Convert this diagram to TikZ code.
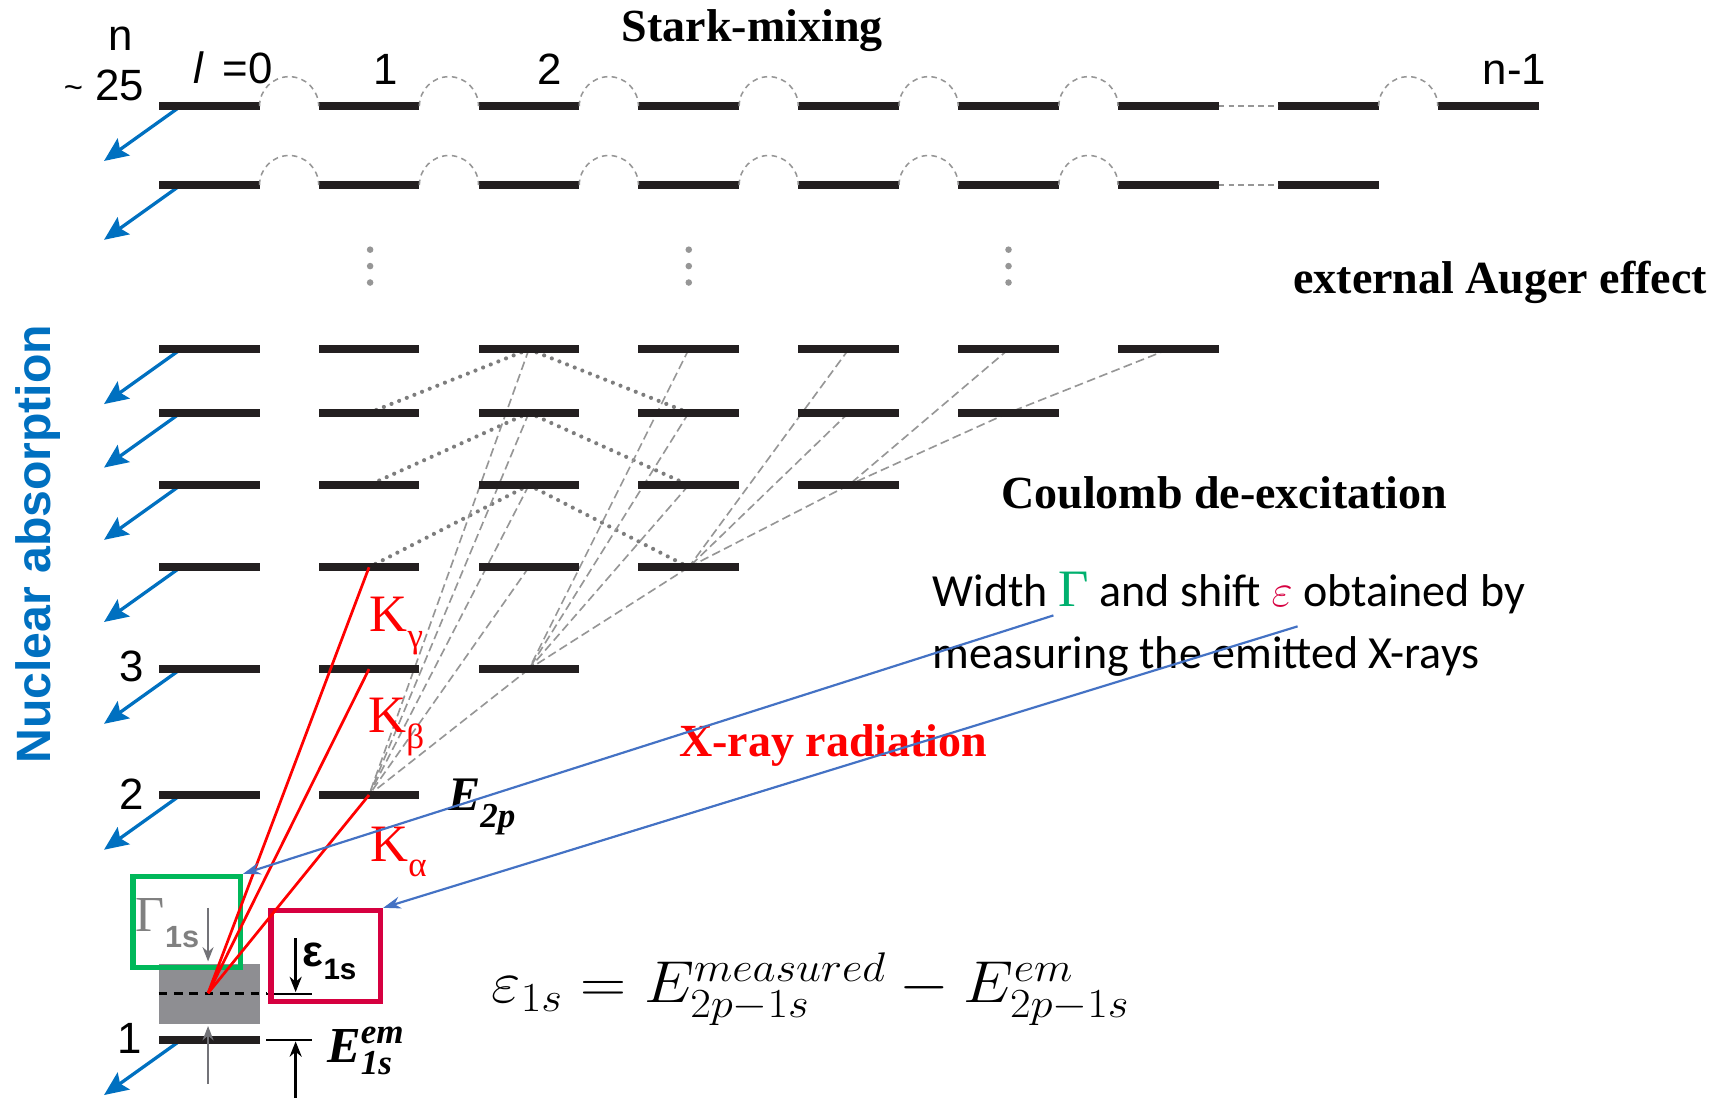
\RequirePackage{fix-cm}
\documentclass[tikz,border=0pt]{standalone}
\usepackage{amsmath}
\usepackage{fontspec}
\setmainfont{Liberation Serif}
\setsansfont{Liberation Sans}
\newfontfamily\calibri{Carlito}
\usetikzlibrary{arrows.meta}
\newcommand\fsz[1]{\fontsize{#1}{#1}\selectfont}
\definecolor{nblue}{RGB}{0,112,192}
\definecolor{lblue}{RGB}{68,114,196}
\definecolor{gboxc}{RGB}{0,184,90}
\definecolor{rboxc}{RGB}{214,0,64}
\definecolor{gfill}{RGB}{142,142,146}
\definecolor{tgray}{RGB}{150,150,150}
\definecolor{dgray}{RGB}{125,125,125}
\definecolor{agray}{RGB}{115,115,120}
\definecolor{kred}{RGB}{255,0,0}
\definecolor{gGamma}{RGB}{0,176,110}
\definecolor{barc}{RGB}{35,31,32}
\pgfdeclarelayer{bg}
\pgfsetlayers{bg,main}
\tikzset{
  bar/.style={fill=barc, minimum width=92pt, minimum height=7pt, inner sep=0pt, outer sep=0pt},
  stark/.style={draw=tgray, line width=1.4pt, dash pattern=on 5pt off 4pt},
  coul/.style={draw=dgray, line width=3.8pt, line cap=round, dash pattern=on 0pt off 7.5pt},
  xray/.style={draw=tgray, line width=1.5pt, dash pattern=on 8pt off 4pt},
  kline/.style={draw=kred, line width=2.5pt},
  nuc/.style={draw=nblue, line width=3pt, -{Stealth[length=22pt,width=19pt,inset=4pt]}},
  ptr/.style={draw=lblue, line width=2pt, -{Stealth[length=16pt,width=11pt]}},
  lbl/.style={inner sep=0pt, outer sep=0pt},
  sanslbl/.style={lbl, font=\sffamily\fsz{40}},
  title/.style={lbl, font=\bfseries\fsz{42}},
  klbl/.style={lbl, text=kred, font=\fsz{48}},
  vbar/.style={line width=2.5pt},
}
\begin{document}
\begin{tikzpicture}[x=1pt,y=-1pt]
\useasboundingbox (0,0) rectangle (1568,1002);
% ---------------- levels
\foreach \l in {0,...,8} \node[bar] (t\l) at ({191+146*\l},97) {};
\foreach \l in {0,...,7} \node[bar] (s\l) at ({191+146*\l},169) {};
\foreach \n/\y in {7/319,6/377,5/443,4/518,3/611,2/726} {
  \pgfmathtruncatemacro\m{\n-1}
  \foreach \l in {0,...,\m} \node[bar] (b\n\l) at ({191+146*\l},\y) {};
}
\node[bar] (b10) at (191,950) {};
% ---------------- Stark mixing arcs
\foreach \a in {0,1,2,3,4,5,7} \draw[stark] (t\a.east) arc[start angle=180,end angle=0,radius=27pt];
\foreach \a in {0,1,2,3,4,5} \draw[stark] (s\a.east) arc[start angle=180,end angle=0,radius=27pt];
\draw[stark] (t6.east) -- (t7.west);
\draw[stark] (s6.east) -- (s7.west);
% vertical dots
\foreach \x in {338,629,921} \foreach \y in {228,243,258} \fill[tgray] (\x,\y) circle (3pt);
% ---------------- transitions
\begin{pgfonlayer}{bg}
\foreach \a/\b in {72/61,72/63,62/51,62/53,52/41,52/43} \draw[coul] (b\a.center) -- (b\b.center);
\foreach \a/\b in {32/21,42/21,52/21,62/21,72/21,43/32,53/32,63/32,73/32,54/43,64/43,74/43,65/54,75/54,76/65}
  \draw[xray] (b\a.center) -- (b\b.center);
\foreach \r in {t0,s0,b70,b60,b50,b40,b30,b20,b10} \draw[nuc] ([xshift=-26pt]\r.center) -- ++(-70,50);
\end{pgfonlayer}
% ---------------- 1s region
\node[fill=gfill, minimum width=92pt, minimum height=55pt, inner sep=0pt] (gb) at (191,907.5) {};
\coordinate (eps0) at (243,907.5);
\coordinate (eps1) at (285,907.5);
\draw[line width=3pt, dash pattern=on 8pt off 6pt] (gb.west) -- (eps0);
\draw[line width=2pt] (eps0) -- (eps1);
\coordinate (em0) at (243,950);
\coordinate (em1) at (285,950);
\draw[line width=2pt] (em0) -- (em1);
\coordinate (emA) at (270,1004);
\coordinate (emT) at (270,951);
\draw[vbar, -{Stealth[length=14pt,width=11pt]}] (emA) -- (emT);
\coordinate (epA) at (270,857);
\coordinate (epT) at (270,906);
\draw[vbar, -{Stealth[length=14pt,width=11pt]}] (epA) -- (epT);
\coordinate (gaA) at (190,829);
\coordinate (gaT) at (190,878);
\draw[vbar, agray, -{Stealth[length=13pt,width=10pt]}] (gaA) -- (gaT);
\coordinate (guA) at (190,990);
\coordinate (guT) at (190,937);
\draw[vbar, agray, -{Stealth[length=13pt,width=10pt]}] (guA) -- (guT);
\node[draw=gboxc, line width=5pt, minimum width=98pt, minimum height=83pt, inner sep=0pt] (gbx) at (170.5,842) {};
\node[draw=rboxc, line width=5pt, minimum width=100pt, minimum height=83pt, inner sep=0pt] (rbx) at (297.5,873) {};
% K lines
\coordinate (k1s) at (190,907);
\foreach \r in {b21,b31,b41} \draw[kline] (\r.center) -- (k1s);
% ---------------- labels
\node[sanslbl] (nlab) at (110,35) {n};
\node[sanslbl] (n25) at (95,78) {\raisebox{0.05em}{\fsz{30}\textasciitilde} 25};
\node[sanslbl] (l0) at (213,62) {{\itshape l}\, =0};
\node[sanslbl] (c1) at (352,63) {1};
\node[sanslbl] (c2) at (502,63) {2};
\node[sanslbl] (cn) at (1383,63) {n-1};
\node[sanslbl] (r3) at (120,609) {3};
\node[sanslbl] (r2) at (120,725) {2};
\node[sanslbl] (r1) at (118,948) {1};
\node[lbl, rotate=90, text=nblue, font=\sffamily\bfseries\fsz{44}] (nuclab) at (35,497) {Nuclear absorption};
\node[title] (stark) at (687,28) {Stark-mixing};
\node[title] (auger) at (1370,258) {external Auger effect};
\node[title] (coul) at (1118,450) {Coulomb de-excitation};
\node[title, text=kred] (xray) at (761,681) {X-ray radiation};
\node[klbl] (kg) at (362,572) {K\raisebox{-0.3em}{\fsz{32}γ}};
\node[klbl] (kb) at (362,664) {K\raisebox{-0.3em}{\fsz{32}β}};
\node[klbl] (ka) at (364,778) {K\raisebox{-0.3em}{\fsz{32}α}};
\node[lbl, font=\bfseries\itshape\fsz{44}] (e2p) at (440,737) {E\raisebox{-0.35em}{\fsz{32}2p}};
\node[lbl, font=\bfseries\itshape\fsz{46}] (e1s) at (334,960) {E$^{\text{\bfseries\itshape\fsz{32}em}}_{\text{\bfseries\itshape\fsz{32}1s}}$};
\node[lbl, text=gray] (gam) at (153,843) {\fsz{46}Γ\raisebox{-0.3em}{\sffamily\bfseries\fsz{28}1s}};
\node[lbl, font=\sffamily\bfseries] (epsl) at (301,878) {\fsz{40}ε\raisebox{-0.3em}{\fsz{27}1s}};
\node[lbl, font=\fsz{54}, xscale=1.08, transform shape] (form) at (740,903) {$\varepsilon_{1s} = E^{measured}_{2p-1s} - E^{em}_{2p-1s}$};
\node[lbl, anchor=west, align=left, font=\calibri\fontsize{42}{57}\selectfont] (note) at (852,570)
  {Width {\rmfamily\color{gGamma}\fsz{48}Γ} and shift {\color{rboxc}$\varepsilon$} obtained by\\measuring the emitted X-rays};
\coordinate (gsrc) at (962,562);
\coordinate (esrc) at (1185,572);
\draw[ptr] (gsrc) -- (gbx.north east);
\draw[ptr] (esrc) -- (rbx.north east);
\end{tikzpicture}
\end{document}
